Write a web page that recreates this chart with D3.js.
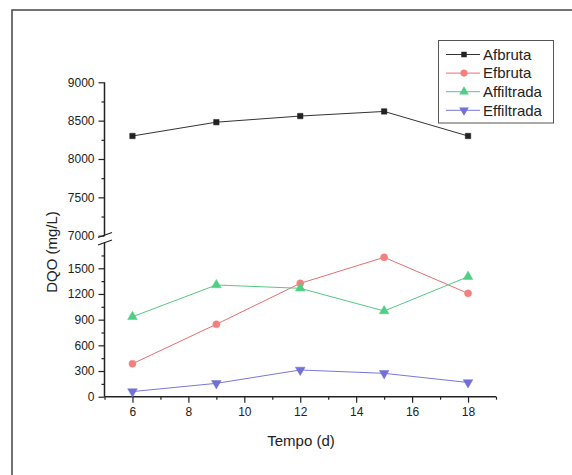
<!DOCTYPE html>
<html><head><meta charset="utf-8">
<script src="https://cdn.jsdelivr.net/npm/d3@7"></script>
<style>body{margin:0;background:#fff}svg{display:block}text{font-family:"Liberation Sans",Arial,sans-serif}</style>
</head><body>
<svg id="c" width="572" height="475"></svg>
<script>
const days = [6, 9, 12, 15, 18];
const afbruta = [8300, 8480, 8560, 8620, 8300];
const efbruta = [385, 846, 1324, 1628, 1207];
const affiltrada = [934, 1305, 1266, 1001, 1402];
const effiltrada = [60, 156, 312, 273, 166];
const seriesNames = ["Afbruta", "Efbruta", "Affiltrada", "Effiltrada"];
const xTicks = [6, 8, 10, 12, 14, 16, 18];
const yTicksUpper = [7000, 7500, 8000, 8500, 9000];
const yTicksLower = [0, 300, 600, 900, 1200, 1500];

const svg = d3.select("#c");
const x = d3.scaleLinear().domain([5, 19]).range([104.5, 496]);
const yU = d3.scaleLinear().domain([7000, 9000]).range([235.7, 82.3]);
const yL = d3.scaleLinear().domain([0, 1800]).range([396.7, 242.6]);
const yv = v => v >= 7000 ? yU(v) : yL(v);

// frame
svg.append("path").attr("d", "M12,475 V10 H572").attr("fill", "none").attr("stroke", "#444").attr("stroke-width", 1.5);

const styles = [
  {name: seriesNames[0], data: afbruta, line: "#333", fill: "#222", sym: d3.symbolSquare, size: 30, rot: 0},
  {name: seriesNames[1], data: efbruta, line: "#e86f6f", fill: "#f2807e", sym: d3.symbolCircle, size: 40, rot: 0},
  {name: seriesNames[2], data: affiltrada, line: "#55c983", fill: "#4fcf84", sym: d3.symbolTriangle, size: 40, rot: 0},
  {name: seriesNames[3], data: effiltrada, line: "#7a78d8", fill: "#7270d6", sym: d3.symbolTriangle, size: 40, rot: 180}
];

// axes
const axX = svg.append("g").attr("transform", "translate(0,396.7)");
axX.call(d3.axisBottom(x).tickValues(xTicks).tickSize(6).tickPadding(5).tickFormat(d3.format("d")));
axX.append("g").call(d3.axisBottom(x).tickValues([5,7,9,11,13,15,17,19]).tickSize(3).tickFormat(""));
const axU = svg.append("g").attr("transform", "translate(104.5,0)");
axU.call(d3.axisLeft(yU).tickValues(yTicksUpper).tickSize(6).tickPadding(4).tickFormat(d3.format("d")));
axU.append("g").call(d3.axisLeft(yU).tickValues([7250,7750,8250,8750]).tickSize(3).tickFormat(""));
const axL = svg.append("g").attr("transform", "translate(104.5,0)");
axL.call(d3.axisLeft(yL).tickValues(yTicksLower).tickSize(6).tickPadding(4).tickFormat(d3.format("d")));
axL.append("g").call(d3.axisLeft(yL).tickValues([150,450,750,1050,1350,1650]).tickSize(3).tickFormat(""));
svg.selectAll(".domain").remove();
svg.selectAll(".tick line").attr("stroke", "#222").attr("stroke-width", 1.2);
svg.selectAll(".tick text").attr("font-size", 12).attr("fill", "#222").style("font-family", "Liberation Sans, Arial, sans-serif");
// axis lines
svg.append("line").attr("x1", x(5)).attr("x2", x(19)).attr("y1", yL(0)).attr("y2", yL(0)).attr("stroke", "#222").attr("stroke-width", 1.5);
svg.append("line").attr("x1", 104.5).attr("x2", 104.5).attr("y1", yU(9000)).attr("y2", yU(7000)).attr("stroke", "#222").attr("stroke-width", 1.5);
svg.append("line").attr("x1", 104.5).attr("x2", 104.5).attr("y1", yL(1800)).attr("y2", yL(0)).attr("stroke", "#222").attr("stroke-width", 1.5);
// break marks
svg.append("path").attr("d", "M98,237.5 L112,232.5 M98,245 L112,240").attr("stroke", "#222").attr("stroke-width", 1.3);

// lines and markers
const line = d3.line().x((d, i) => x(days[i])).y(d => yv(d));
styles.forEach(s => {
  svg.append("path").datum(s.data).attr("d", line).attr("fill", "none").attr("stroke", s.line).attr("stroke-width", 1);
  svg.selectAll(null).data(s.data).enter().append("path")
    .attr("d", d3.symbol().type(s.sym).size(s.size))
    .attr("transform", (d, i) => `translate(${x(days[i])},${yv(d)}) rotate(${s.rot})`)
    .attr("fill", s.fill).attr("stroke", s.fill).attr("stroke-width", 0.5);
});

// axis titles
svg.append("text").attr("x", 301).attr("y", 446).attr("text-anchor", "middle").attr("font-size", 15).attr("fill", "#222").text("Tempo (d)");
svg.append("text").attr("transform", "translate(57,252) rotate(-90)").attr("text-anchor", "middle").attr("font-size", 15).attr("fill", "#222").text("DQO (mg/L)");

// legend
svg.append("rect").attr("x", 438.5).attr("y", 40.5).attr("width", 115).attr("height", 82.5).attr("fill", "#fff").attr("stroke", "#555").attr("stroke-width", 1);
styles.forEach((s, i) => {
  const cy = 54.5 + i * 18.6;
  svg.append("line").attr("x1", 446).attr("x2", 480).attr("y1", cy).attr("y2", cy).attr("stroke", s.line).attr("stroke-width", 1);
  svg.append("path").attr("d", d3.symbol().type(s.sym).size(s.size)).attr("transform", `translate(464,${cy}) rotate(${s.rot})`).attr("fill", s.fill);
  svg.append("text").attr("x", 483).attr("y", cy + 5.3).attr("font-size", 15).attr("fill", "#222").text(s.name);
});
</script>
</body></html>
